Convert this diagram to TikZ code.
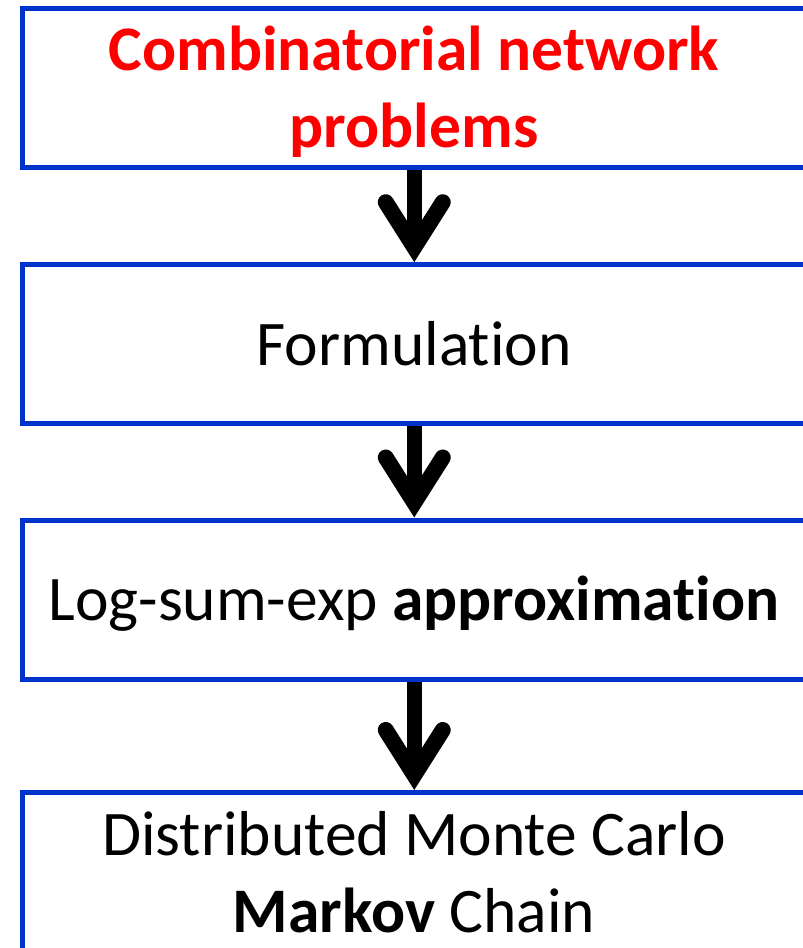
\documentclass[tikz,border=0pt]{standalone}
\usepackage{fontspec}
\setmainfont{Carlito}[Ligatures=NoCommon]
\usetikzlibrary{calc}
\definecolor{boxblue}{RGB}{0,51,204}
\definecolor{titlered}{RGB}{255,0,0}
\begin{document}
\begin{tikzpicture}[x=1pt,y=-1pt,
  stepbox/.style={draw=boxblue,line width=5pt,rectangle,inner sep=0pt,
    minimum width=783.5pt},
  label/.style={anchor=base,inner sep=0pt,font=\fontsize{63.5}{77}\selectfont},
  shaft/.style={line width=15pt,line cap=butt},
  barb/.style={line width=16pt,line cap=round,line join=miter},
]
\useasboundingbox (0,0) rectangle (803,948);
\clip (0,0) rectangle (803,948);

% flow boxes
\node[stepbox,minimum height=158.8pt] (b1) at (414.25,87.6) {};
\node[stepbox,minimum height=158.8pt] (b2) at (414.25,344.1) {};
\node[stepbox,minimum height=159.5pt] (b3) at (414.25,599.75) {};
\node[stepbox,minimum height=159pt]   (b4) at (414.25,872) {};

% box texts
\node[label,text=titlered,font=\fontsize{63.5}{77}\selectfont\bfseries] (t1a) at (414,70) {Combinatorial network};
\node[label,text=titlered,font=\fontsize{63.5}{77}\selectfont\bfseries] (t1b) at (414,147) {problems};
\node[label] (t2) at (414,365) {Formulation};
\node[label] (t3) at (414,620) {Log-sum-exp \textbf{approximation}};
\node[label] (t4a) at (414,855) {Distributed Monte Carlo};
\node[label] (t4b) at (414,932) {\textbf{Markov} Chain};

% downward arrows between consecutive boxes
\foreach \a/\b in {b1/b2,b2/b3,b3/b4}{
  \coordinate (tip) at (\b.north);
  \coordinate (join) at ($(tip)+(0,-15)$);
  \draw[shaft] (\a.south) -- (join);
  \draw[barb] ($(tip)+(-28.5,-60)$) -- (join) -- ($(tip)+(28.5,-60)$);
}
\end{tikzpicture}
\end{document}
